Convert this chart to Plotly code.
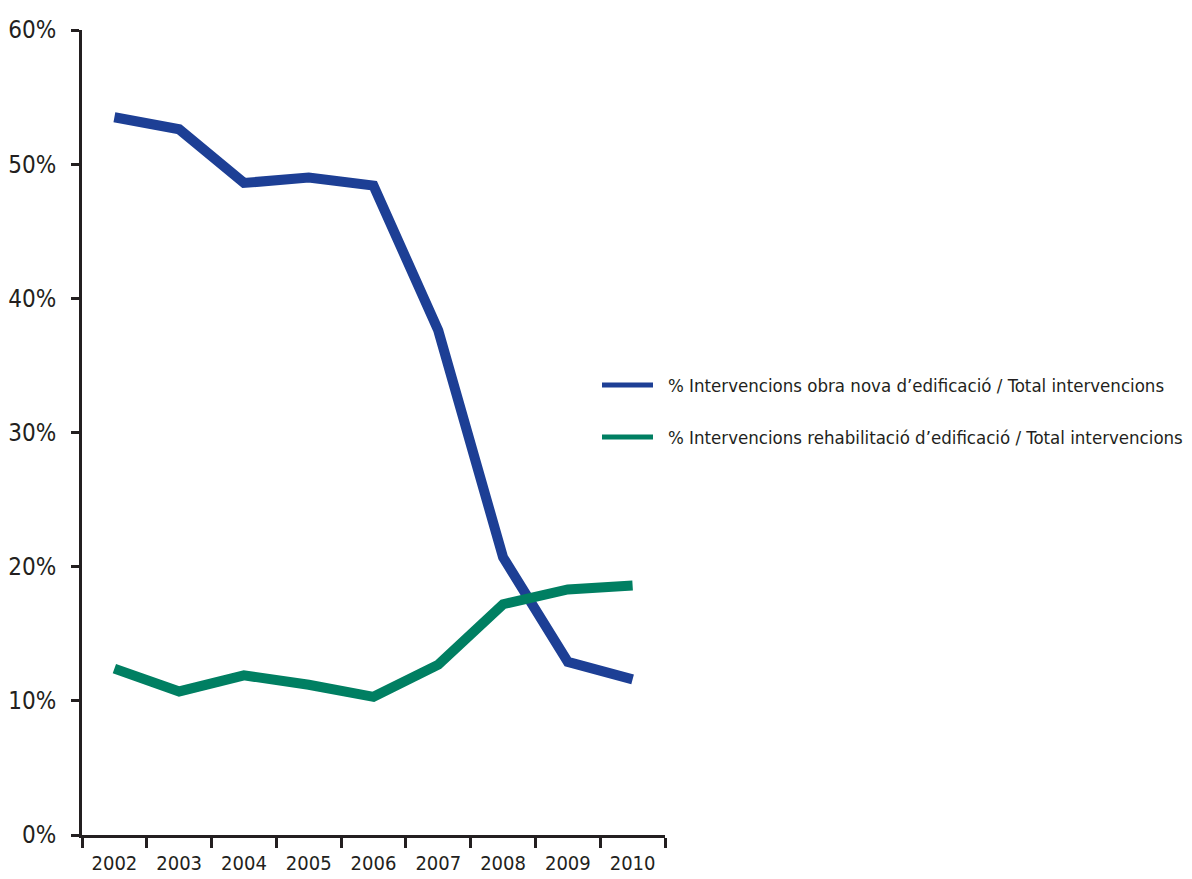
import plotly.graph_objects as go

years = ["2002", "2003", "2004", "2005", "2006", "2007", "2008", "2009", "2010"]
obra_nova = [53.5, 52.6, 48.6, 49.0, 48.4, 37.6, 20.7, 12.9, 11.6]
rehabilitacio = [12.4, 10.7, 11.9, 11.2, 10.3, 12.7, 17.2, 18.3, 18.6]
y_ticks = [0, 10, 20, 30, 40, 50, 60]
y_tick_labels = ["0%", "10%", "20%", "30%", "40%", "50%", "60%"]
names = ["% Intervencions obra nova d\u2019edificació / Total intervencions",
         "% Intervencions rehabilitació d\u2019edificació / Total intervencions"]
colors = ["#1D3F95", "#007F62"]

FONT = "DejaVu Sans Condensed, Liberation Sans Narrow, sans-serif"

fig = go.Figure()
for vals, name, col in zip([obra_nova, rehabilitacio], names, colors):
    fig.add_trace(go.Scatter(x=years, y=vals, mode="lines", name=name,
                             line=dict(color=col, width=10), showlegend=False))

# page body adds an 8px offset; figure coordinates are reference pixels minus 8
OFF = 8
W, H = 1192 - OFF, 879 - OFF
L, R, T, B = 82 - OFF, 665 - OFF, 30 - OFF, 835 - OFF
def px_x(p):
    return (p - OFF - L) / (R - L)
def px_y(p):
    return (B - (p - OFF)) / (B - T)

# manual legend (line samples + labels)
for i, (name, col) in enumerate(zip(names, colors)):
    yy = 385 + i * 52
    fig.add_shape(type="line", xref="paper", yref="paper",
                  x0=px_x(602), x1=px_x(653), y0=px_y(yy), y1=px_y(yy),
                  line=dict(color=col, width=5))
    fig.add_annotation(xref="paper", yref="paper", x=px_x(666), y=px_y(yy),
                       xanchor="left", yanchor="middle", showarrow=False,
                       text=name, font=dict(family=FONT, size=18.5, color="#231F20"))

fig.update_layout(
    width=W, height=H,
    margin=dict(l=L, r=W - R, t=T, b=H - B, pad=0),
    plot_bgcolor="white", paper_bgcolor="white",
    font=dict(family=FONT, color="#231F20"),
)
fig.update_xaxes(type="category", range=[-0.5, len(years) - 0.5],
                 showline=True, linecolor="#231F20", linewidth=3,
                 ticks="outside", tickson="boundaries", ticklen=10, tickwidth=3,
                 tickcolor="#231F20", showgrid=False, zeroline=False, automargin=False,
                 ticklabelstandoff=8,
                 tickfont=dict(family=FONT, size=20, color="#231F20"))
fig.update_yaxes(range=[0, 60], tickvals=y_ticks, ticktext=y_tick_labels,
                 showline=True, linecolor="#231F20", linewidth=3,
                 ticks="outside", ticklen=8, tickwidth=3, tickcolor="#231F20",
                 showgrid=False, zeroline=False, automargin=False,
                 ticklabelstandoff=10,
                 tickfont=dict(family=FONT, size=24, color="#231F20"))

fig.write_html("out.html")
